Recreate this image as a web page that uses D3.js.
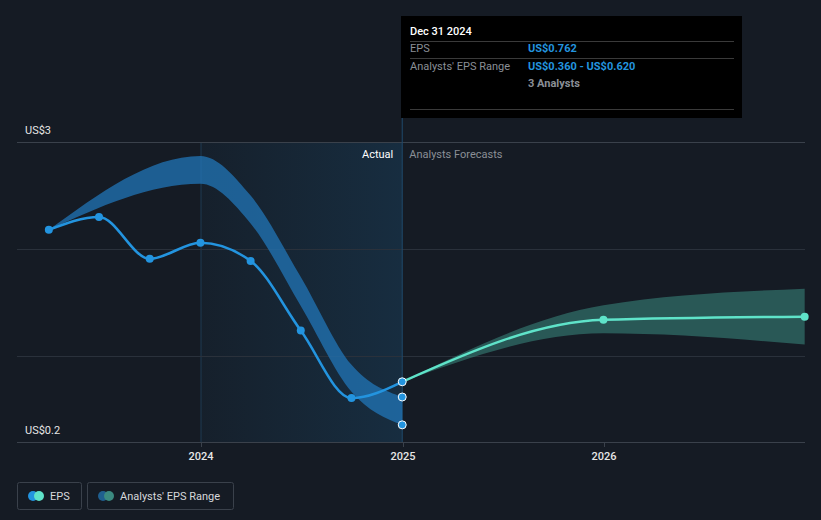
<!DOCTYPE html>
<html>
<head>
<meta charset="utf-8">
<script src="https://cdn.jsdelivr.net/npm/d3@7"></script>
<style>
  html, body { margin: 0; padding: 0; background: #151b24; }
  svg { display: block; font-family: Roboto, "Open Sans", sans-serif; }
</style>
</head>
<body>
<svg id="chart" width="821" height="520"></svg>
<script>
// ---- data ----
const actualDates = ["2023-03-31","2023-06-30","2023-09-30","2023-12-31","2024-03-31","2024-06-30","2024-09-30","2024-12-31"];
const actualEps   = [2.18, 2.30, 1.91, 2.06, 1.89, 1.24, 0.61, 0.762];

const pastRangeDates = ["2023-03-31","2023-12-31","2024-03-31","2024-06-30","2024-09-30","2024-12-31"];
const pastRangeLow   = [2.18, 2.61, 2.24, 1.47, 0.67, 0.36];
const pastRangeHigh  = [2.18, 2.87, 2.50, 1.74, 0.92, 0.62];

const forecastDates = ["2024-12-31","2025-12-31","2026-12-31"];
const forecastEps   = [0.762, 1.34, 1.37];
const forecastLow   = [0.762, 1.215, 1.11];
const forecastHigh  = [0.762, 1.477, 1.63];

const yTickValues = [3, 2, 1, 0.2];
const yTickLabels = ["US$3", "", "", "US$0.2"];
const xTickYears  = ["2024-01-01","2025-01-01","2026-01-01"];
const xTickLabels = ["2024","2025","2026"];

const tooltipTitle = "Dec 31 2024";
const tooltipRows = [["EPS","US$0.762"],["Analysts' EPS Range","US$0.360 - US$0.620"],["","3 Analysts"]];

// ---- setup ----
const parse = d3.utcParse("%Y-%m-%d");
const svg = d3.select("#chart");
const pLeft = 17, pRight = 805, pTop = 142, pBottom = 442;

const x = d3.scaleUtc()
  .domain([parse("2024-01-01"), parse("2026-01-01")])
  .range([201, 604]);
const y = d3.scaleLinear().domain([0.2, 3]).range([pBottom, pTop]);

const C_BLUE = "#2394df", C_TEAL = "#5fe3c9";

// defs
const defs = svg.append("defs");
const grad = defs.append("linearGradient").attr("id","actGrad").attr("x1","0").attr("x2","1").attr("y1","0").attr("y2","0");
grad.append("stop").attr("offset","0").attr("stop-color","#2394df").attr("stop-opacity",0.04);
grad.append("stop").attr("offset","1").attr("stop-color","#2394df").attr("stop-opacity",0.15);

// actual shaded region
const xStartShade = x(parse("2024-01-01")), xNow = x(parse("2024-12-31"));
svg.append("rect").attr("x", xStartShade).attr("y", pTop).attr("width", xNow - xStartShade).attr("height", pBottom - pTop)
  .attr("fill","url(#actGrad)");
svg.append("line").attr("x1", xStartShade).attr("x2", xStartShade).attr("y1", pTop).attr("y2", pBottom)
  .attr("stroke","#1f3a52").attr("stroke-width",1);

// gridlines
[3,2,1].forEach(v => {
  svg.append("line").attr("x1", pLeft).attr("x2", pRight).attr("y1", Math.round(y(v))+0.5).attr("y2", Math.round(y(v))+0.5)
    .attr("stroke", v === 3 ? "#3a414b" : "#2a313b").attr("stroke-width",1);
});

// vertical "now" line
svg.append("line").attr("x1", xNow).attr("x2", xNow).attr("y1", 118).attr("y2", pBottom)
  .attr("stroke","#1f4a6b").attr("stroke-width",1);

// bands
const pastBand = pastRangeDates.map((d,i)=>({d:parse(d), lo:pastRangeLow[i], hi:pastRangeHigh[i]}));
const fcBand = forecastDates.map((d,i)=>({d:parse(d), lo:forecastLow[i], hi:forecastHigh[i]}));
const area = d3.area().x(d=>x(d.d)).y0(d=>y(d.lo)).y1(d=>y(d.hi)).curve(d3.curveMonotoneX);
svg.append("path").datum(pastBand).attr("d", area).attr("fill", "#2178bd").attr("fill-opacity", 0.72);
svg.append("path").datum(fcBand).attr("d", area).attr("fill", "#3a8a80").attr("fill-opacity", 0.55);

// lines
const actual = actualDates.map((d,i)=>({d:parse(d), v:actualEps[i]}));
const fc = forecastDates.map((d,i)=>({d:parse(d), v:forecastEps[i]}));
const line = d3.line().x(d=>x(d.d)).y(d=>y(d.v)).curve(d3.curveMonotoneX);
svg.append("path").datum(actual).attr("d", line).attr("fill","none").attr("stroke", C_BLUE).attr("stroke-width",2.5);
svg.append("path").datum(fc).attr("d", line).attr("fill","none").attr("stroke", C_TEAL).attr("stroke-width",2.5);

// points
svg.selectAll(".pa").data(actual.slice(0,-1)).enter().append("circle")
  .attr("cx", d=>x(d.d)).attr("cy", d=>y(d.v)).attr("r", 4).attr("fill", C_BLUE);
svg.selectAll(".pf").data(fc.slice(1)).enter().append("circle")
  .attr("cx", d=>x(d.d)).attr("cy", d=>y(d.v)).attr("r", 4).attr("fill", C_TEAL);
const lastBand = pastBand[pastBand.length-1];
[actual[actual.length-1].v, lastBand.hi, lastBand.lo].forEach(v => {
  svg.append("circle").attr("cx", xNow).attr("cy", y(v)).attr("r", 4)
    .attr("fill", C_BLUE).attr("stroke","#ffffff").attr("stroke-width",1);
});

// x axis
svg.append("line").attr("x1", pLeft).attr("x2", pRight).attr("y1", pBottom+0.5).attr("y2", pBottom+0.5)
  .attr("stroke","#3a414b").attr("stroke-width",1);
xTickYears.forEach((d,i) => {
  const xx = Math.round(x(parse(d)));
  svg.append("line").attr("x1", xx+0.5).attr("x2", xx+0.5).attr("y1", pBottom).attr("y2", pBottom+5).attr("stroke","#3a414b");
  svg.append("text").attr("x", xx).attr("y", 460).attr("text-anchor","middle")
    .attr("fill","#e6e6e6").attr("font-size",11).attr("font-weight",500).text(xTickLabels[i]);
});

// y labels
yTickValues.forEach((v,i) => {
  if (!yTickLabels[i]) return;
  svg.append("text").attr("x", 25).attr("y", y(v) - 8).attr("fill","#e6e6e6").attr("font-size",11).text(yTickLabels[i]);
});

// Actual / Analysts Forecasts labels
svg.append("text").attr("x", xNow - 9).attr("y", 158).attr("text-anchor","end").attr("fill","#ffffff").attr("font-size",11).text("Actual");
svg.append("text").attr("x", xNow + 7).attr("y", 158).attr("fill","#8a8f96").attr("font-size",11).text("Analysts Forecasts");

// tooltip
const tt = svg.append("g");
tt.append("rect").attr("x", 401).attr("y", 16).attr("width", 341).attr("height", 102).attr("fill","#000000");
tt.append("text").attr("x", 410).attr("y", 35).attr("fill","#ffffff").attr("font-size",11).attr("font-weight",500).text(tooltipTitle);
[41.5, 58.5, 109.5].forEach(yy => tt.append("line").attr("x1",410).attr("x2",734).attr("y1",yy).attr("y2",yy).attr("stroke","#3a3a3a"));
tooltipRows.forEach((r,i) => {
  const yy = 52 + i*17.5;
  if (r[0]) tt.append("text").attr("x",410).attr("y",yy).attr("fill","#8a8f96").attr("font-size",11).text(r[0]);
  tt.append("text").attr("x",528).attr("y",yy).attr("fill", i < 2 ? C_BLUE : "#8a8f96").attr("font-size",11).attr("font-weight",700).text(r[1]);
});

// legend
const lg = svg.append("g");
lg.append("rect").attr("x",17.5).attr("y",482.5).attr("width",64).attr("height",27).attr("rx",2).attr("fill","none").attr("stroke","#3a414b");
lg.append("circle").attr("cx",33).attr("cy",496).attr("r",5).attr("fill",C_BLUE);
lg.append("circle").attr("cx",39).attr("cy",496).attr("r",5).attr("fill",C_TEAL);
lg.append("text").attr("x",50).attr("y",500).attr("fill","#d6d8db").attr("font-size",11).text("EPS");
lg.append("rect").attr("x",87.5).attr("y",482.5).attr("width",146).attr("height",27).attr("rx",2).attr("fill","none").attr("stroke","#3a414b");
lg.append("circle").attr("cx",103).attr("cy",496).attr("r",5).attr("fill","#1f5f8f");
lg.append("circle").attr("cx",109).attr("cy",496).attr("r",5).attr("fill","#3b8a80");
lg.append("text").attr("x",120).attr("y",500).attr("fill","#d6d8db").attr("font-size",11).text("Analysts' EPS Range");
</script>
</body>
</html>
